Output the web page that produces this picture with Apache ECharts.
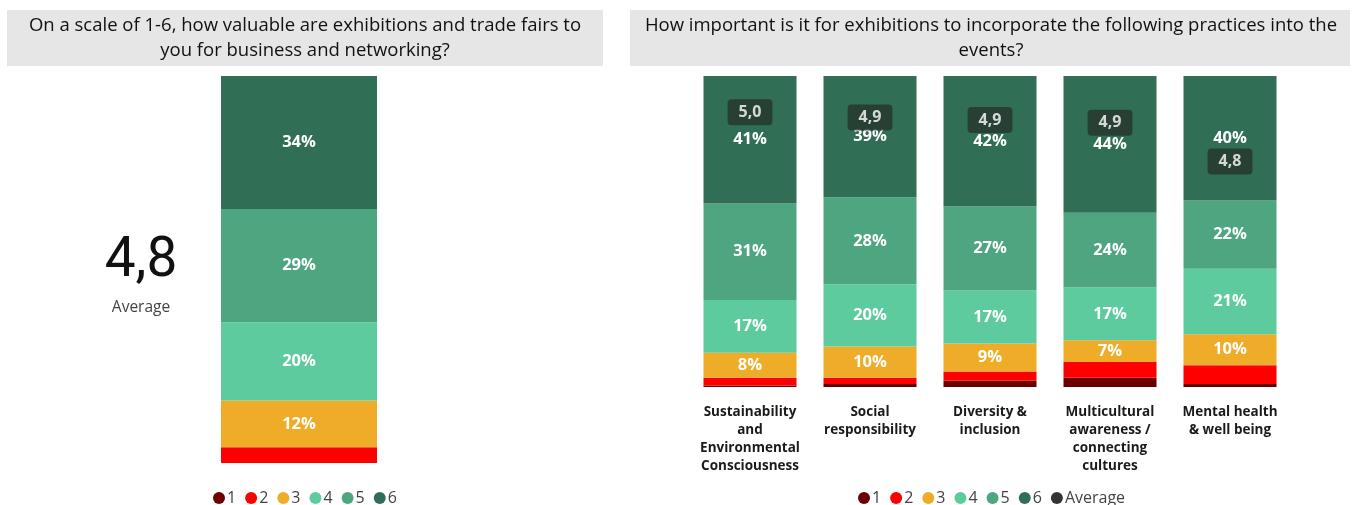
<!DOCTYPE html>
<html lang="en">
<head>
    <meta charset="UTF-8">
    <title>Exhibitions survey</title>
    <script src="https://cdn.jsdelivr.net/npm/echarts@6/dist/echarts.min.js"></script>
    <style>
        body { margin: 0; background: #fff; }
    </style>
</head>
<body>
    <div id="main" style="width: 1357px;height: 505px"></div>
    <script>
        // scores 1..6, share in percent
        var scoreNames = ['1', '2', '3', '4', '5', '6'];
        var scoreColors = ['#6b0000', '#fe0000', '#eeac28', '#5dcb9d', '#4ea680', '#306f55'];

        // left: value of exhibitions for business and networking
        var leftShares = [0, 4, 12, 20, 29, 34];
        var leftAverage = 4.8;

        // right: importance of practices
        var practices = [
            'Sustainability\nand\nEnvironmental\nConsciousness',
            'Social\nresponsibility',
            'Diversity &\ninclusion',
            'Multicultural\nawareness /\nconnecting\ncultures',
            'Mental health\n& well being'
        ];
        var share1 = [0.5, 1, 2, 3, 1];
        var share2 = [2.5, 2, 3, 5, 6];
        var share3 = [8, 10, 9, 7, 10];
        var share4 = [17, 20, 17, 17, 21];
        var share5 = [31, 28, 27, 24, 22];
        var share6 = [41, 39, 42, 44, 40];
        var practiceAverages = [4.96, 4.94, 4.93, 4.92, 4.77];

        var rightShares = [share1, share2, share3, share4, share5, share6];
        var font = '"Open Sans", "Noto Sans", sans-serif';

        function fmtComma(v) {
            return v.toFixed(1).replace('.', ',');
        }
        function pctLabel(p) {
            return p.value >= 7 ? Math.round(p.value) + '%' : '';
        }

        var series = [];
        scoreNames.forEach(function (name, i) {
            series.push({
                name: name,
                type: 'bar',
                stack: 'left',
                xAxisIndex: 0,
                yAxisIndex: 0,
                barWidth: '100%',
                itemStyle: { color: scoreColors[i] },
                label: {
                    show: true, position: 'inside', formatter: pctLabel,
                    color: '#fff', fontWeight: 'bold', fontSize: 16.5, fontFamily: font
                },
                data: [leftShares[i]]
            });
        });
        scoreNames.forEach(function (name, i) {
            series.push({
                name: name,
                type: 'bar',
                stack: 'right',
                xAxisIndex: 1,
                yAxisIndex: 1,
                barWidth: 93,
                itemStyle: { color: scoreColors[i] },
                label: {
                    show: true, position: 'inside', formatter: pctLabel,
                    color: '#fff', fontWeight: 'bold', fontSize: 16.5, fontFamily: font
                },
                data: rightShares[i]
            });
        });
        series.push({
            name: 'Average',
            type: 'scatter',
            xAxisIndex: 1,
            yAxisIndex: 2,
            symbolSize: 0,
            itemStyle: { color: '#000' },
            label: {
                show: true, position: 'inside',
                formatter: function (p) { return fmtComma(p.value); },
                color: '#fff', fontWeight: 'bold', fontSize: 16, fontFamily: font,
                backgroundColor: '#26342b', borderRadius: 4, padding: [5, 11]
            },
            z: 5,
            data: practiceAverages
        });

        var leftTotal = leftShares.reduce(function (a, b) { return a + b; }, 0);

        var mCharts = echarts.init(document.getElementById('main'));
        var option = {
            animation: false,
            textStyle: { fontFamily: font },
            grid: [
                { left: 221, width: 156, top: 76, height: 387 },
                { left: 690, width: 600, top: 76, height: 311 }
            ],
            xAxis: [
                { type: 'category', gridIndex: 0, data: [''], show: false },
                {
                    type: 'category', gridIndex: 1, data: practices,
                    axisLine: { show: false }, axisTick: { show: false },
                    axisLabel: {
                        interval: 0, margin: 16, color: '#1a1a1a', fontWeight: 'bold',
                        fontSize: 13.5, lineHeight: 18, fontFamily: font
                    }
                }
            ],
            yAxis: [
                { type: 'value', gridIndex: 0, min: 0, max: leftTotal, show: false },
                { type: 'value', gridIndex: 1, min: 0, max: 100, show: false },
                { type: 'value', gridIndex: 1, min: 3.9, max: 5.1, show: false }
            ],
            legend: [
                {
                    data: scoreNames, left: 208, top: 485, icon: 'circle',
                    itemWidth: 12, itemHeight: 12, itemGap: 9,
                    textStyle: { color: '#444', fontSize: 16, fontFamily: font, padding: [0, 0, 0, -3] }
                },
                {
                    data: scoreNames.concat(['Average']), left: 853, top: 485, icon: 'circle',
                    itemWidth: 12, itemHeight: 12, itemGap: 9,
                    textStyle: { color: '#444', fontSize: 16, fontFamily: font, padding: [0, 0, 0, -3] }
                }
            ],
            graphic: [
                { type: 'rect', shape: { x: 7, y: 10, width: 596, height: 56 }, style: { fill: '#e6e6e6' } },
                {
                    type: 'text', x: 305, y: 38,
                    style: {
                        text: 'On a scale of 1-6, how valuable are exhibitions and trade fairs to\nyou for business and networking?',
                        align: 'center', verticalAlign: 'middle', fill: '#111',
                        font: '18.5px ' + font, lineHeight: 25
                    }
                },
                { type: 'rect', shape: { x: 630, y: 10, width: 720, height: 56 }, style: { fill: '#e6e6e6' } },
                {
                    type: 'text', x: 991, y: 38,
                    style: {
                        text: 'How important is it for exhibitions to incorporate the following practices into the\nevents?',
                        align: 'center', verticalAlign: 'middle', fill: '#111',
                        font: '18.5px ' + font, lineHeight: 25
                    }
                },
                {
                    type: 'text', x: 141, y: 262,
                    style: {
                        text: fmtComma(leftAverage), align: 'center', verticalAlign: 'middle',
                        fill: '#111', font: '55px Roboto, sans-serif'
                    }
                },
                {
                    type: 'text', x: 141, y: 308,
                    style: {
                        text: 'Average', align: 'center', verticalAlign: 'middle',
                        fill: '#444', font: '15.5px ' + font
                    }
                }
            ],
            series: series
        };
        mCharts.setOption(option);
    </script>
</body>
</html>
